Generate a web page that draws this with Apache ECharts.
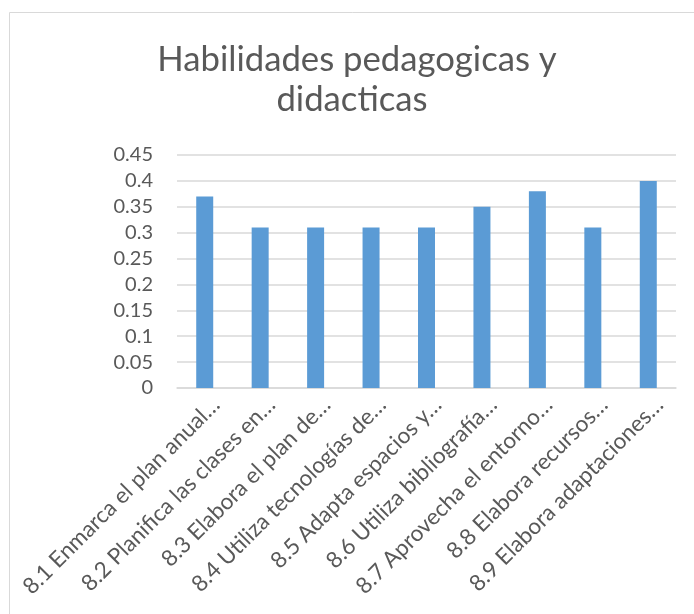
<!DOCTYPE html>
<html>
<head>
<meta charset="utf-8">
<script src="https://cdn.jsdelivr.net/npm/echarts@6/dist/echarts.min.js"></script>
<style>html,body{margin:0;padding:0;background:#fff}#c{width:694px;height:614px}</style>
</head>
<body>
<div id="c"></div>
<script>
const titleLines = ['Habilidades pedagogicas y', 'didacticas'];
const categories = [
  '8.1 Enmarca el plan anual…',
  '8.2 Planifica las clases en…',
  '8.3 Elabora el plan de…',
  '8.4 Utiliza tecnologías de…',
  '8.5 Adapta espacios y…',
  '8.6 Utiliza bibliografía…',
  '8.7 Aprovecha el entorno…',
  '8.8 Elabora recursos…',
  '8.9 Elabora adaptaciones…'
];
const values = [0.37, 0.31, 0.31, 0.31, 0.31, 0.35, 0.38, 0.31, 0.40];
const yMin = 0, yMax = 0.45, yStep = 0.05;

const FONT = 'Lato, "Open Sans", sans-serif';
const TXT = '#595959';
const chart = echarts.init(document.getElementById('c'));
chart.setOption({
  animation: false,
  backgroundColor: '#fff',
  graphic: [
    {type: 'rect', left: 7, top: 10, shape: {width: 720, height: 720}, style: {fill: 'none', stroke: '#d9d9d9', lineWidth: 1}},
    {type: 'text', x: 357, y: 60, style: {text: titleLines[0], fill: TXT, font: '34.7px ' + FONT, align: 'center', verticalAlign: 'middle'}},
    {type: 'text', x: 352, y: 100, style: {text: titleLines[1], fill: TXT, font: '34.7px ' + FONT, align: 'center', verticalAlign: 'middle'}}
  ],
  grid: {left: 177, right: 18, top: 155, bottom: 226, containLabel: false},
  xAxis: {
    type: 'category',
    data: categories,
    axisLine: {lineStyle: {color: '#d9d9d9', width: 1.5}},
    axisTick: {show: false},
    axisLabel: {rotate: 45, interval: 0, color: TXT, fontSize: 22.5, fontFamily: FONT, margin: 2, verticalAlign: 'top', lineHeight: 32}
  },
  yAxis: {
    type: 'value',
    min: yMin, max: yMax, interval: yStep,
    axisLine: {show: false},
    axisTick: {show: false},
    splitLine: {lineStyle: {color: '#d9d9d9', width: 1.5}},
    axisLabel: {color: TXT, fontSize: 20, fontFamily: FONT, margin: 24,
      formatter: v => String(parseFloat(v.toFixed(2)))}
  },
  series: [{
    type: 'bar',
    data: values,
    barWidth: 17,
    itemStyle: {color: '#5B9BD5'}
  }]
});
</script>
</body>
</html>
